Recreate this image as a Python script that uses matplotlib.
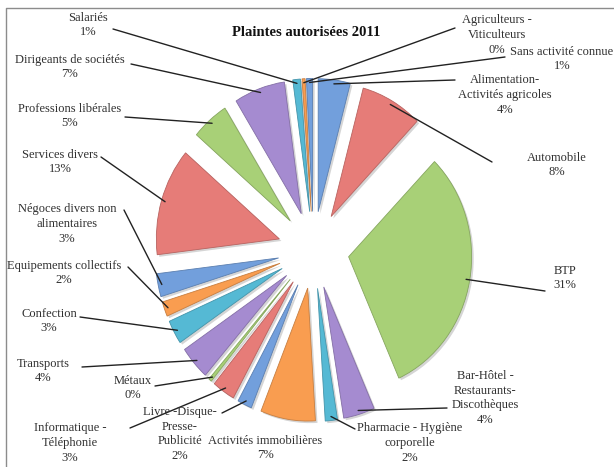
import matplotlib.pyplot as plt
import matplotlib.patheffects as pe
import matplotlib.colors as mcolors
import numpy as np
from matplotlib.lines import Line2D

plt.rcParams['font.family'] = ['Liberation Serif', 'DejaVu Serif']

W, H = 614, 467

# slices, clockwise from 12 o'clock
categories = [
    'Alimentation-\nActivités agricoles',
    'Automobile',
    'BTP',
    'Bar-Hôtel -\nRestaurants-\nDiscothèques',
    'Pharmacie - Hygiène\ncorporelle',
    'Activités immobilières',
    'Livre -Disque-\nPresse-\nPublicité',
    'Informatique -\nTéléphonie',
    'Métaux',
    'Transports',
    'Confection',
    'Equipements collectifs',
    'Négoces divers non\nalimentaires',
    'Services divers',
    'Professions libérales',
    'Dirigeants de sociétés',
    'Salariés',
    'Agriculteurs -\nViticulteurs',
    'Sans activité connue',
]
shares = [4.2, 8.1, 31.0, 4.1, 1.6, 7.2, 1.9, 3.0, 0.4, 4.1,
          2.9, 1.8, 2.8, 13.1, 4.9, 6.7, 1.0, 0.4, 0.8]

# label centre and leader start, in pixels from the top-left corner
label_pos = [
    (505, 95), (557, 165), (565, 278), (485, 398), (410, 443),
    (265, 448), (180, 434), (70, 443), (133, 388), (43, 371),
    (49, 321), (64, 273), (67, 224), (60, 162), (70, 116),
    (70, 67), (88, 25), (497, 35), (562, 59),
]
leader_from = [
    (455, 80), (492, 162), (545, 291), (447, 408), (355, 429),
    None, (222, 413), (130, 428), (155, 386), (82, 367),
    (80, 317), (128, 267), (124, 210), (101, 157), (125, 117),
    (131, 64), (113, 29), (455, 28), (505, 57),
]

palette = ['#729fdc', '#e67c78', '#a8d077', '#a58bd0', '#55b9d4', '#f99d50']
colors = [palette[i % 6] for i in range(len(shares))]


def darker(c, f=0.8):
    r, g, b = mcolors.to_rgb(c)
    return (r * f, g * f, b * f)


fig = plt.figure(figsize=(W / 100, H / 100), dpi=100)
ax = fig.add_axes([0, 0, 1, 1])

# pixel scale of one radius unit (slightly taller than wide)
sx, sy = 123.0, 133.0
cx, cy = 313.5, 250.0
explode = [0.29] * len(shares)

wedges, _ = ax.pie(shares, colors=colors, startangle=90, counterclock=False,
                   explode=explode, radius=1.0,
                   wedgeprops=dict(linewidth=0.6))
for w, c in zip(wedges, colors):
    w.set_edgecolor(darker(c))
    w.set_path_effects([
        pe.SimplePatchShadow(offset=(1.5, -1.5), shadow_rgbFace='#888888', alpha=0.35),
        pe.Normal(),
    ])

ax.set_aspect('auto')
ax.set_xlim(-cx / sx, (W - cx) / sx)
ax.set_ylim(-(H - cy) / sy, cy / sy)
ax.axis('off')

total = sum(shares)
for w, name, v, (lx, ly), start in zip(wedges, categories, shares, label_pos, leader_from):
    pct = 100 * v / total
    fig.text(lx / W, 1 - ly / H, f'{name}\n{pct:.0f}%', ha='center', va='center',
             fontsize=9, color='#303030', linespacing=1.3)
    if start is None:
        continue
    mid = np.deg2rad((w.theta1 + w.theta2) / 2)
    ox, oy = w.center
    tip = (ox + 0.97 * w.r * np.cos(mid), oy + 0.97 * w.r * np.sin(mid))
    ax.annotate('', xy=tip, xycoords='data',
                xytext=(start[0], H - start[1]), textcoords='figure pixels',
                arrowprops=dict(arrowstyle='-', color='#222222', lw=1.0,
                                shrinkA=0, shrinkB=0))

fig.text(306 / W, 1 - 33 / H, 'Plaintes autorisées 2011', ha='center', va='center',
         fontsize=10.5, fontweight='bold', color='#111111')

# chart area border (top and left edges)
fig.add_artist(Line2D([6 / W, 6 / W, 1], [0, 1 - 8 / H, 1 - 8 / H],
                      transform=fig.transFigure, color='#8c8c8c', lw=1.0))

fig.savefig('out.png', dpi=100)
